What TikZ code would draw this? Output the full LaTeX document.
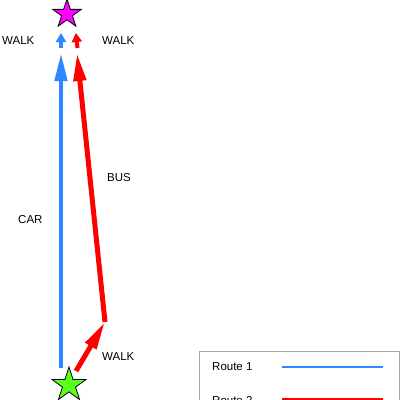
\documentclass[tikz,border=0pt]{standalone}
\usepackage{fontspec}
\setmainfont{Liberation Sans}
\usepackage{xcolor}
\usetikzlibrary{arrows.meta}
\usetikzlibrary{positioning, shapes.geometric}

\definecolor{routeblue}{RGB}{45,135,255}
\definecolor{routered}{RGB}{255,0,0}
\definecolor{destpink}{RGB}{255,0,255}
\definecolor{startgreen}{RGB}{90,255,30}

\tikzset{
  place/.style={star, star points=5, star point ratio=2.618, draw=black,
    line width=0.8pt, inner sep=0pt},
  long leg/.style={-{Triangle[length=28pt,width=12pt]}, line width=4.5pt},
  short leg/.style={-{Triangle[length=9pt,width=10pt]}, line width=4pt},
  mode/.style={font=\fontsize{11.5}{13}\selectfont, inner sep=0pt},
}

\begin{document}
\begin{tikzpicture}[x=1pt, y=-1pt]
  \useasboundingbox (0,0) rectangle (400,400);

  % start and destination
  \node [place, fill=destpink, minimum size=30pt] (dest) at (67,14) {};
  \node [place, fill=startgreen, minimum size=36pt] (home) at (69,385) {};

  % route 1
  \coordinate (carfrom) at (61,368);
  \coordinate (carto) at (61,53);
  \coordinate (walkAfrom) at (61,48);
  \coordinate (walkAto) at (61,33);
  \draw [long leg, routeblue] (carfrom) -- (carto);
  \draw [short leg, routeblue] (walkAfrom) -- (walkAto);

  % route 2
  \coordinate (walkBfrom) at (76,371);
  \coordinate (stop) at (105,322); % bus stop
  \coordinate (busto) at (77,53);
  \coordinate (walkCfrom) at (77.5,48);
  \coordinate (walkCto) at (75.9,33);
  \draw [long leg, routered, line width=5pt] (stop) -- (busto);
  \draw [long leg, routered, line width=5pt] (walkBfrom) -- (stop);
  \draw [short leg, routered] (walkCfrom) -- (walkCto);

  % labels
  \node [mode, anchor=west] (walkl) at (2,41) {WALK};
  \node [mode, anchor=west] (walkr) at (102,41) {WALK};
  \node [mode, anchor=west] (bus) at (107,178) {BUS};
  \node [mode, anchor=west] (car) at (18,220) {CAR};
  \node [mode, anchor=west] (walkb) at (102,357) {WALK};

  % legend
  \draw [gray!70, line width=0.8pt] (199,351) rectangle (399,430);
  \node [mode, anchor=west] (leg1) at (212,367) {Route 1};
  \node [mode, anchor=west] (leg2) at (212,401) {Route 2};
  \coordinate (leg1a) at (282,367);
  \coordinate (leg1b) at (383,367);
  \coordinate (leg2a) at (282,399);
  \coordinate (leg2b) at (383,399);
  \draw [routeblue, line width=2.5pt] (leg1a) -- (leg1b);
  \draw [routered, line width=2.5pt] (leg2a) -- (leg2b);
\end{tikzpicture}
\end{document}
